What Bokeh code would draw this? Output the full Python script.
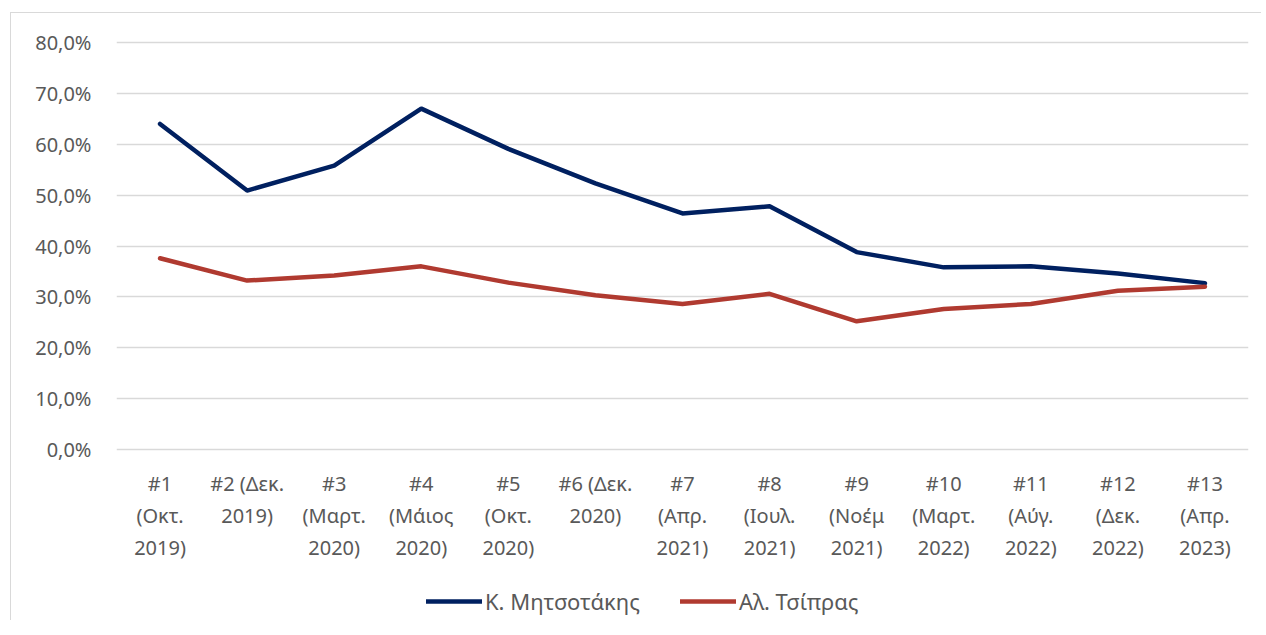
from bokeh.plotting import figure
from bokeh.layouts import column
from bokeh.models import FactorRange, Legend, LegendItem, FixedTicker, Range1d
from bokeh.embed import file_html
from bokeh.resources import INLINE

categories = ["#1\n(Οκτ.\n2019)", "#2 (Δεκ.\n2019)", "#3\n(Μαρτ.\n2020)", "#4\n(Μάιος\n2020)",
              "#5\n(Οκτ.\n2020)", "#6 (Δεκ.\n2020)", "#7\n(Απρ.\n2021)", "#8\n(Ιουλ.\n2021)",
              "#9\n(Νοέμ\n2021)", "#10\n(Μαρτ.\n2022)", "#11\n(Αύγ.\n2022)", "#12\n(Δεκ.\n2022)",
              "#13\n(Απρ.\n2023)"]
mitsotakis = [64.0, 50.9, 55.8, 67.0, 59.1, 52.3, 46.4, 47.8, 38.8, 35.8, 36.0, 34.6, 32.7]
tsipras = [37.6, 33.2, 34.2, 36.0, 32.8, 30.3, 28.6, 30.6, 25.2, 27.6, 28.6, 31.2, 32.0]
series_names = ["Κ. Μητσοτάκης", "Αλ. Τσίπρας"]
series_colors = ["#002060", "#B03A30"]
y_ticks = [0, 10, 20, 30, 40, 50, 60, 70, 80]
y_tick_labels = ["0,0%", "10,0%", "20,0%", "30,0%", "40,0%", "50,0%", "60,0%", "70,0%", "80,0%"]

FONT = "Noto Sans"
TXT = "#595959"
LW = 4.5

p = figure(width=1250, height=562, x_range=FactorRange(*categories), y_range=Range1d(-0.4, 80.4),
           output_backend="svg", toolbar_location=None,
           min_border_left=105, min_border_right=13, min_border_top=27, min_border_bottom=124)
p.outline_line_color = None

p.line(categories, mitsotakis, line_color=series_colors[0], line_width=LW, line_join="round", line_cap="round")
p.line(categories, tsipras, line_color=series_colors[1], line_width=LW, line_join="round", line_cap="round")

p.xgrid.grid_line_color = None
p.ygrid.grid_line_color = "#d9d9d9"
p.ygrid.grid_line_width = 1.3
p.yaxis.ticker = FixedTicker(ticks=y_ticks)
p.yaxis.major_label_overrides = {t: l for t, l in zip(y_ticks, y_tick_labels)}

for ax in (p.xaxis[0], p.yaxis[0]):
    ax.axis_line_color = None
    ax.major_tick_line_color = None
    ax.minor_tick_line_color = None
    ax.major_label_text_font = FONT
    ax.major_label_text_color = TXT
    ax.major_label_text_font_size = "20px"

p.yaxis.major_label_standoff = 19
p.xaxis.major_label_standoff = 12
p.xaxis.major_label_text_line_height = 1.2

# legend strip below the chart: same series, drawn out of its visible range so only the legend shows
lf = figure(width=1250, height=45, x_range=FactorRange(*categories), y_range=Range1d(200, 201),
            output_backend="svg", toolbar_location=None,
            min_border_left=0, min_border_right=0, min_border_top=0, min_border_bottom=0)
lf.axis.visible = False
lf.grid.visible = False
lf.outline_line_color = None
lr1 = lf.line(categories, mitsotakis, line_color=series_colors[0], line_width=LW, line_cap="round")
lr2 = lf.line(categories, tsipras, line_color=series_colors[1], line_width=LW, line_cap="round")
legend = Legend(items=[LegendItem(label=series_names[0], renderers=[lr1]),
                       LegendItem(label=series_names[1], renderers=[lr2])],
                orientation="horizontal", location=(310, 4),
                label_text_font=FONT, label_text_color=TXT, label_text_font_size="22px",
                glyph_width=56, label_standoff=3, spacing=40, border_line_color=None,
                background_fill_alpha=0, margin=0, padding=0)
lf.add_layout(legend, "center")

layout = column(p, lf, spacing=0,
                styles={"margin-left": "10px", "margin-top": "12px",
                        "border-left": "1px solid #d9d9d9", "border-top": "1px solid #d9d9d9"})

open("out.html", "w").write(file_html(layout, INLINE))
